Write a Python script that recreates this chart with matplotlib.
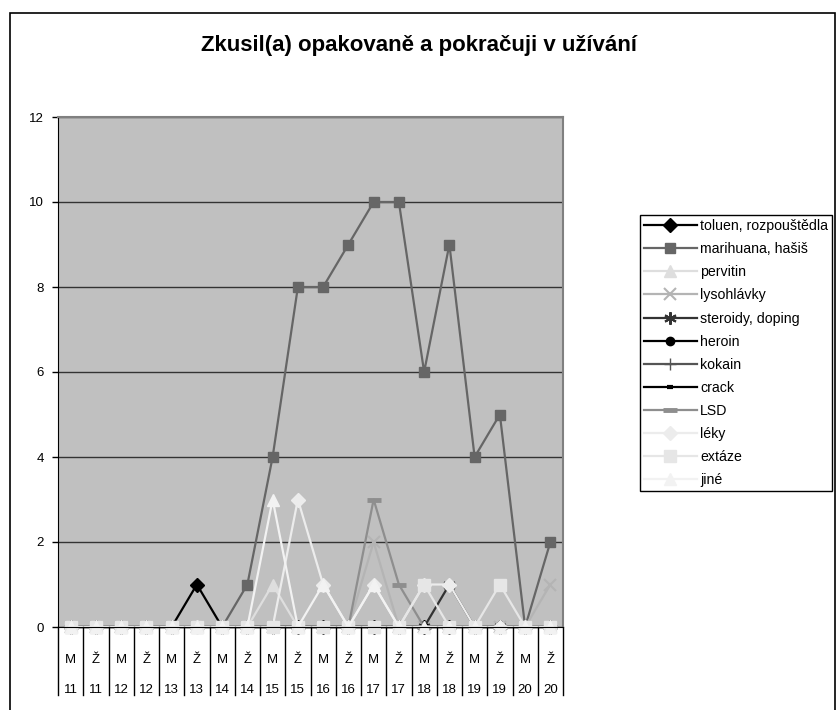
import matplotlib.pyplot as plt
from matplotlib.patches import Rectangle

plt.rcParams['font.family'] = ['Liberation Sans', 'DejaVu Sans']

# kategorie (pohlavi + vek)
pohlavi = ['M', 'Ž', 'M', 'Ž', 'M', 'Ž', 'M', 'Ž', 'M', 'Ž',
           'M', 'Ž', 'M', 'Ž', 'M', 'Ž', 'M', 'Ž', 'M', 'Ž']
vek = ['11', '11', '12', '12', '13', '13', '14', '14', '15', '15',
       '16', '16', '17', '17', '18', '18', '19', '19', '20', '20']

# hodnoty jednotlivych latek
toluen = [0, 0, 0, 0, 0, 1, 0, 0, 0, 0, 0, 0, 0, 0, 0, 0, 0, 0, 0, 0]
marihuana = [0, 0, 0, 0, 0, 0, 0, 1, 4, 8, 8, 9, 10, 10, 6, 9, 4, 5, 0, 2]
pervitin = [0, 0, 0, 0, 0, 0, 0, 0, 1, 0, 0, 0, 0, 0, 0, 0, 0, 0, 0, 0]
lysohlavky = [0, 0, 0, 0, 0, 0, 0, 0, 0, 0, 0, 0, 2, 0, 0, 0, 0, 0, 0, 1]
steroidy = [0, 0, 0, 0, 0, 0, 0, 0, 0, 0, 0, 0, 0, 0, 0, 1, 0, 0, 0, 0]
heroin = [0, 0, 0, 0, 0, 0, 0, 0, 0, 0, 0, 0, 0, 0, 0, 0, 0, 0, 0, 0]
kokain = [0, 0, 0, 0, 0, 0, 0, 0, 0, 0, 0, 0, 0, 0, 0, 0, 0, 0, 0, 0]
crack = [0, 0, 0, 0, 0, 0, 0, 0, 0, 0, 0, 0, 0, 0, 0, 0, 0, 0, 0, 0]
lsd = [0, 0, 0, 0, 0, 0, 0, 0, 0, 0, 0, 0, 3, 1, 0, 0, 0, 0, 0, 0]
leky = [0, 0, 0, 0, 0, 0, 0, 0, 0, 3, 1, 0, 1, 0, 1, 1, 0, 0, 0, 0]
extaze = [0, 0, 0, 0, 0, 0, 0, 0, 0, 0, 0, 0, 0, 0, 1, 0, 0, 1, 0, 0]
jine = [0, 0, 0, 0, 0, 0, 0, 0, 3, 0, 1, 0, 1, 0, 0, 0, 0, 0, 0, 0]

# (popisek, data, barva, marker, velikost markeru, sirka hrany markeru)
serie = [
    ('toluen, rozpouštědla', toluen, '#000000', 'D', 7, 1),
    ('marihuana, hašiš', marihuana, '#666666', 's', 7, 1),
    ('pervitin', pervitin, '#dedede', '^', 8, 1),
    ('lysohlávky', lysohlavky, '#b4b4b4', 'x', 8, 1.5),
    ('steroidy, doping', steroidy, '#333333', (6, 2, 0), 9, 1.5),
    ('heroin', heroin, '#000000', 'o', 6, 1),
    ('kokain', kokain, '#555555', '+', 8, 1),
    ('crack', crack, '#000000', '_', 5, 3),
    ('LSD', lsd, '#8e8e8e', '_', 10, 3.5),
    ('léky', leky, '#ececec', 'D', 7, 1),
    ('extáze', extaze, '#e6e6e6', 's', 8, 1),
    ('jiné', jine, '#f2f2f2', '^', 9, 1),
]

W, H = 838, 710
fig = plt.figure(figsize=(W / 100, H / 100), dpi=100)
fig.patch.set_facecolor('white')

# vnejsi ramecek grafu
fig.patches.append(Rectangle((10 / W, -0.05), 825 / W, 1.05 - 13 / H,
                             transform=fig.transFigure, fill=False,
                             edgecolor='black', linewidth=1.2))

x0, x1, y0, y1 = 58, 563, 117, 627
ax = fig.add_axes([x0 / W, 1 - y1 / H, (x1 - x0) / W, (y1 - y0) / H])
ax.set_facecolor('#c0c0c0')

x = list(range(len(pohlavi)))
for popisek, data, barva, marker, ms, mew in serie:
    ax.plot(x, data, color=barva, linewidth=1.6, marker=marker, markersize=ms,
            markerfacecolor=barva, markeredgecolor=barva, markeredgewidth=mew,
            label=popisek, clip_on=False)

ax.set_xlim(-0.5, len(pohlavi) - 0.5)
ax.set_ylim(0, 12)
ax.set_yticks(range(0, 13, 2))
ax.yaxis.grid(True, color='#333333', linewidth=1)
ax.set_axisbelow(True)
ax.tick_params(axis='y', direction='out', length=4, width=1, labelsize=9.5, pad=6)
ax.set_xticks([])

ax.spines['left'].set_color('black')
ax.spines['bottom'].set_color('black')
ax.spines['top'].set_color('#808080')
ax.spines['right'].set_color('#808080')
ax.spines['top'].set_linewidth(1.5)
ax.spines['right'].set_linewidth(1.5)

# popisky kategorii ve dvou radcich s oddelovaci
vys = y1 - y0
trans = ax.get_xaxis_transform()
for i in x:
    ax.text(i, -(660 - y1) / vys, pohlavi[i], transform=trans,
            ha='center', va='center', fontsize=9.5)
    ax.text(i, -(690 - y1) / vys, vek[i], transform=trans,
            ha='center', va='center', fontsize=9.5)
for i in range(len(pohlavi) + 1):
    ax.plot([i - 0.5, i - 0.5], [0, -(695 - y1) / vys], transform=trans,
            color='black', linewidth=1, clip_on=False)

fig.text(0.5, 1 - 45 / H, 'Zkusil(a) opakovaně a pokračuji v užívání',
         ha='center', va='center', fontsize=16, fontweight='bold')

leg = fig.legend(loc='upper left', bbox_to_anchor=(640 / W, 1 - 215 / H),
                 fontsize=10.2, handlelength=3.7, handletextpad=0.25,
                 labelspacing=0.64, borderpad=0.3, borderaxespad=0,
                 fancybox=False, framealpha=1, edgecolor='black')
leg.get_frame().set_linewidth(1)

fig.savefig('out.png', dpi=100)
